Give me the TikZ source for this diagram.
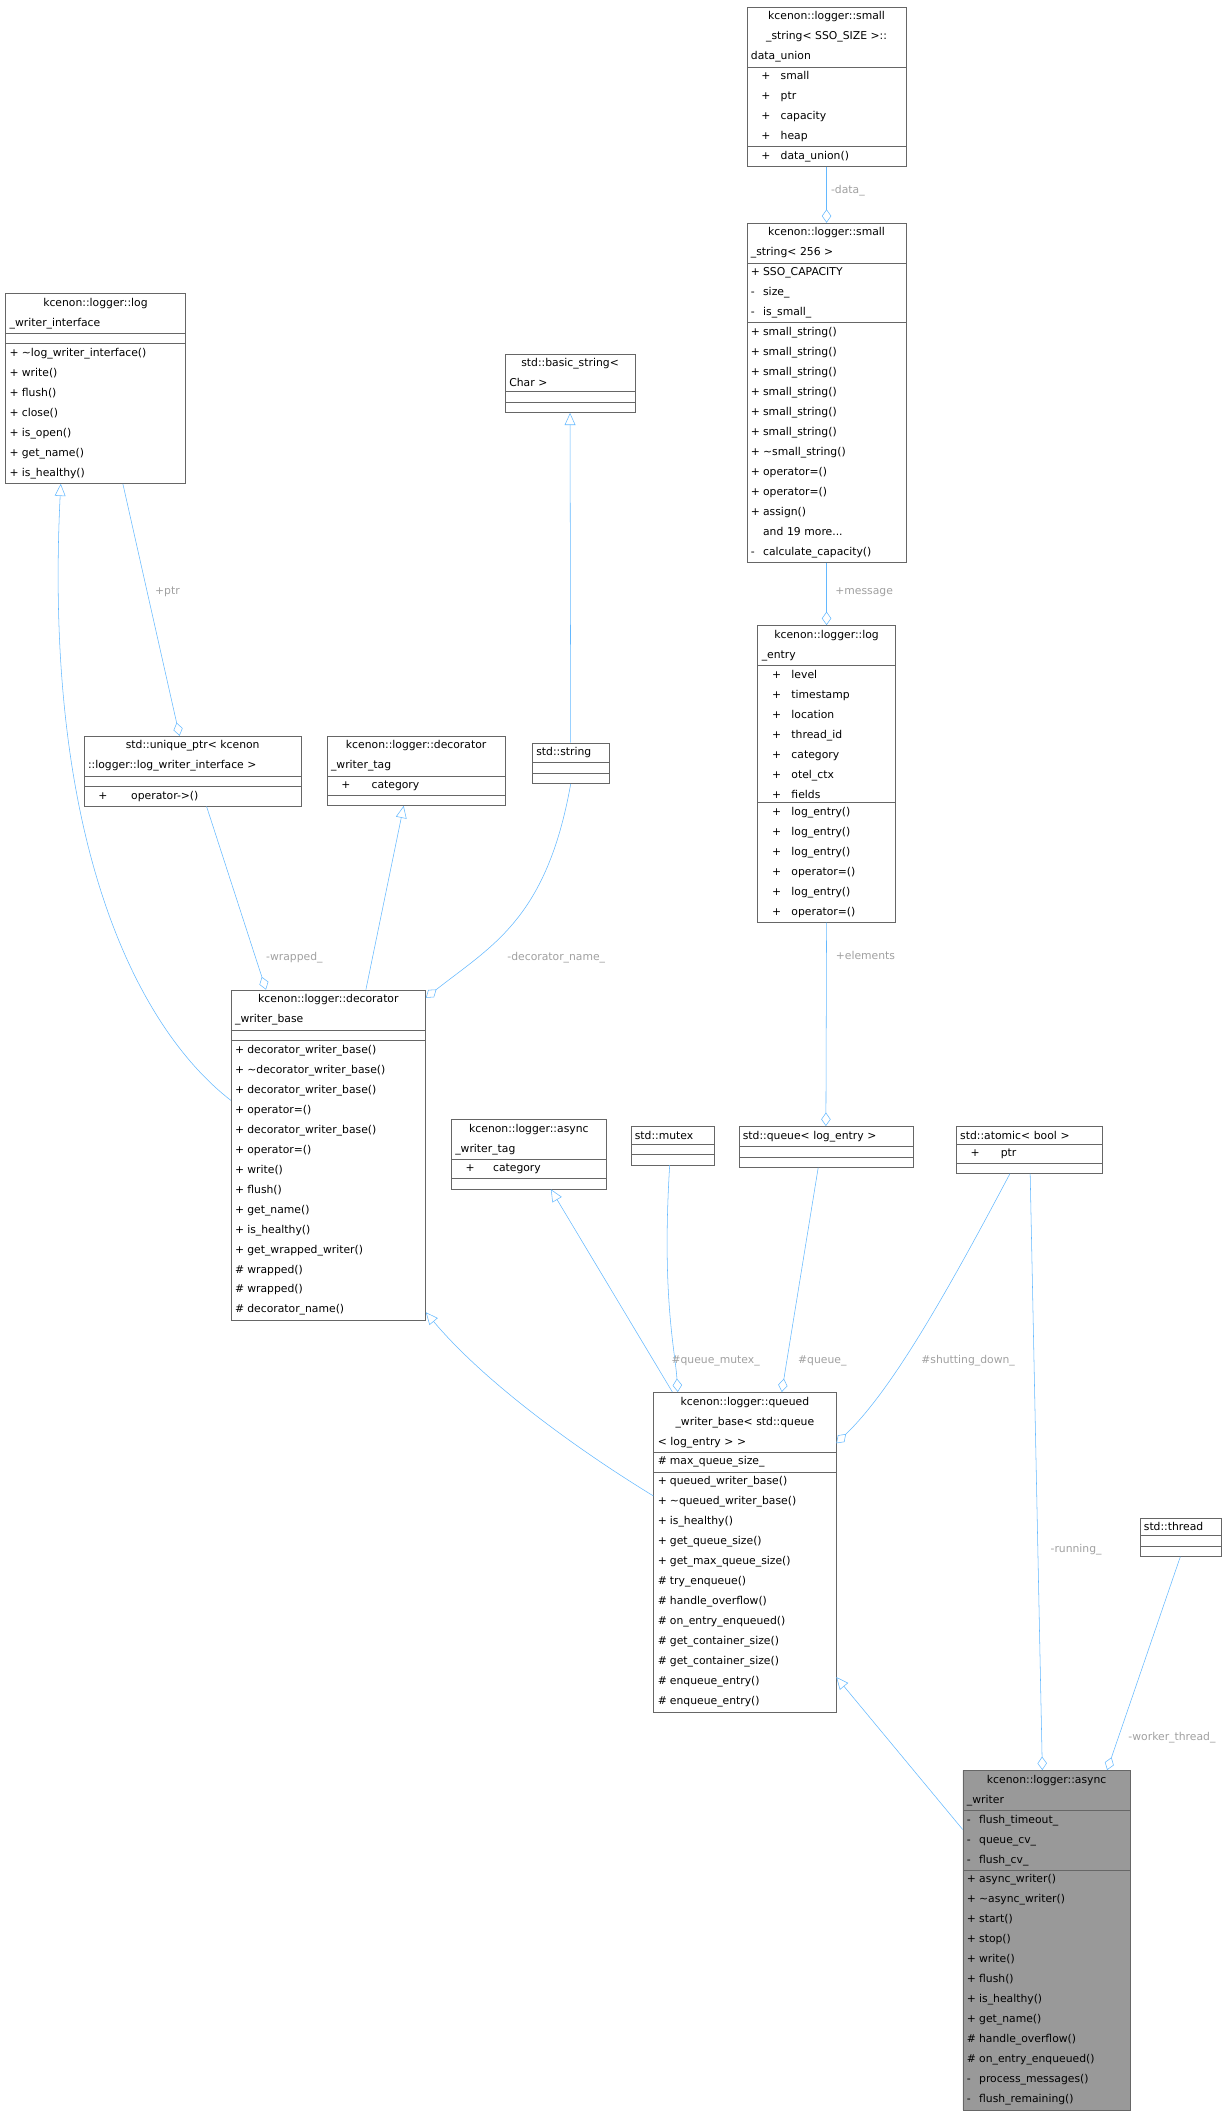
\documentclass[tikz,border=0pt]{standalone}
\usepackage{fontspec}
\setmainfont{DejaVu Sans}
\usetikzlibrary{shapes.multipart, arrows.meta}
\definecolor{edgeblue}{HTML}{63B8FF}
\definecolor{lblgrey}{HTML}{A0A0A0}
\definecolor{boxline}{HTML}{666666}
\newcommand{\vis}[1]{\makebox[9pt][l]{#1}}
\newcommand{\wvis}[1]{\makebox[22pt][c]{#1}}
\tikzset{
  cls/.style={rectangle split, rectangle split parts=3, draw=boxline, fill=white,
    anchor=north west, align=left, inner xsep=3pt, inner ysep=3.2pt,
    font=\fontsize{8}{14.8}\selectfont},
  focus/.style={cls, fill=black!40},
  agg/.style={draw=edgeblue, -{Diamond[open,length=10pt,width=7pt]}},
  inh/.style={draw=edgeblue, -{Triangle[open,length=9pt,width=8pt]}},
  lbl/.style={text=lblgrey, font=\fontsize{8}{10}\selectfont, inner sep=1pt}
}
\begin{document}
\begin{tikzpicture}[x=1pt, y=-1pt]
\useasboundingbox (0,0) rectangle (910,1565);
% classes
\node[cls, text width=112pt] (dunion) at (553,5) {\centering kcenon::logger::small\\\_string< SSO\_SIZE >::\\data\_union
  \nodepart{two}\wvis{+}small\\\wvis{+}ptr\\\wvis{+}capacity\\\wvis{+}heap
  \nodepart{three}\wvis{+}data\_union()};
\node[cls, text width=112pt] (sstr) at (553,165) {\centering kcenon::logger::small\\\_string< 256 >
  \nodepart{two}\vis{+}SSO\_CAPACITY\\\vis{-}size\_\\\vis{-}is\_small\_
  \nodepart{three}\vis{+}small\_string()\\\vis{+}small\_string()\\\vis{+}small\_string()\\\vis{+}small\_string()\\\vis{+}small\_string()\\\vis{+}small\_string()\\\vis{+}\textasciitilde small\_string()\\\vis{+}operator=()\\\vis{+}operator=()\\\vis{+}assign()\\\vis{}and 19 more...\\\vis{-}calculate\_capacity()};
\node[cls, text width=96pt] (lentry) at (561,463) {\centering kcenon::logger::log\\\_entry
  \nodepart{two}\wvis{+}level\\\wvis{+}timestamp\\\wvis{+}location\\\wvis{+}thread\_id\\\wvis{+}category\\\wvis{+}otel\_ctx\\\wvis{+}fields
  \nodepart{three}\wvis{+}log\_entry()\\\wvis{+}log\_entry()\\\wvis{+}log\_entry()\\\wvis{+}operator=()\\\wvis{+}log\_entry()\\\wvis{+}operator=()};
\node[cls, text width=127pt] (lwi) at (4,217) {\centering kcenon::logger::log\\\_writer\_interface
  \nodepart{two}\rule{0pt}{1pt}
  \nodepart{three}\vis{+}\textasciitilde log\_writer\_interface()\\\vis{+}write()\\\vis{+}flush()\\\vis{+}close()\\\vis{+}is\_open()\\\vis{+}get\_name()\\\vis{+}is\_healthy()};
\node[cls, text width=90pt] (bstr) at (374,262) {\centering std::basic\_string<\\Char >
  \nodepart{two}\rule{0pt}{1pt}
  \nodepart{three}\rule{0pt}{1pt}};
\node[cls, text width=155pt] (uptr) at (62,545) {\centering std::unique\_ptr< kcenon\\::logger::log\_writer\_interface >
  \nodepart{two}\rule{0pt}{1pt}
  \nodepart{three}\wvis{+}\hspace{10pt}operator->()};
\node[cls, text width=126pt] (dtag) at (242,545) {\centering kcenon::logger::decorator\\\_writer\_tag
  \nodepart{two}\wvis{+}\hspace{8pt}category
  \nodepart{three}\rule{0pt}{1pt}};
\node[cls, text width=51pt] (sstring) at (394,550) {\centering std::string
  \nodepart{two}\rule{0pt}{1pt}
  \nodepart{three}\rule{0pt}{1pt}};
\node[cls, text width=138pt] (dwb) at (171,733) {\centering kcenon::logger::decorator\\\_writer\_base
  \nodepart{two}\rule{0pt}{1pt}
  \nodepart{three}\vis{+}decorator\_writer\_base()\\\vis{+}\textasciitilde decorator\_writer\_base()\\\vis{+}decorator\_writer\_base()\\\vis{+}operator=()\\\vis{+}decorator\_writer\_base()\\\vis{+}operator=()\\\vis{+}write()\\\vis{+}flush()\\\vis{+}get\_name()\\\vis{+}is\_healthy()\\\vis{+}get\_wrapped\_writer()\\\vis{\#}wrapped()\\\vis{\#}wrapped()\\\vis{\#}decorator\_name()};
\node[cls, text width=109pt] (atag) at (334,829) {\centering kcenon::logger::async\\\_writer\_tag
  \nodepart{two}\wvis{+}\hspace{6pt}category
  \nodepart{three}\rule{0pt}{1pt}};
\node[cls, text width=56pt] (mutex) at (467,834) {\centering std::mutex
  \nodepart{two}\rule{0pt}{1pt}
  \nodepart{three}\rule{0pt}{1pt}};
\node[cls, text width=123pt] (queue) at (547,834) {\centering std::queue< log\_entry >
  \nodepart{two}\rule{0pt}{1pt}
  \nodepart{three}\rule{0pt}{1pt}};
\node[cls, text width=102pt] (atomic) at (708,834) {\centering std::atomic< bool >
  \nodepart{two}\wvis{+}\hspace{8pt}ptr
  \nodepart{three}\rule{0pt}{1pt}};
\node[cls, text width=129pt] (qwb) at (484,1031) {\centering kcenon::logger::queued\\\_writer\_base< std::queue\\< log\_entry > >
  \nodepart{two}\vis{\#}max\_queue\_size\_
  \nodepart{three}\vis{+}queued\_writer\_base()\\\vis{+}\textasciitilde queued\_writer\_base()\\\vis{+}is\_healthy()\\\vis{+}get\_queue\_size()\\\vis{+}get\_max\_queue\_size()\\\vis{\#}try\_enqueue()\\\vis{\#}handle\_overflow()\\\vis{\#}on\_entry\_enqueued()\\\vis{\#}get\_container\_size()\\\vis{\#}get\_container\_size()\\\vis{\#}enqueue\_entry()\\\vis{\#}enqueue\_entry()};
\node[cls, text width=54pt] (thread) at (844,1124) {\centering std::thread
  \nodepart{two}\rule{0pt}{1pt}
  \nodepart{three}\rule{0pt}{1pt}};
\node[focus, text width=118pt] (async) at (713,1311) {\centering kcenon::logger::async\\\_writer
  \nodepart{two}\vis{-}flush\_timeout\_\\\vis{-}queue\_cv\_\\\vis{-}flush\_cv\_
  \nodepart{three}\vis{+}async\_writer()\\\vis{+}\textasciitilde async\_writer()\\\vis{+}start()\\\vis{+}stop()\\\vis{+}write()\\\vis{+}flush()\\\vis{+}is\_healthy()\\\vis{+}get\_name()\\\vis{\#}handle\_overflow()\\\vis{\#}on\_entry\_enqueued()\\\vis{-}process\_messages()\\\vis{-}flush\_remaining()};

% connectors
\draw[agg] (dunion.south) -- (sstr.north);
\draw[agg] (sstr.south) -- (lentry.north);
\draw[agg] (lentry.south) -- (queue.north);
\draw[agg] ([xshift=87pt]lwi.south west) -- ([xshift=71pt]uptr.north west);
\draw[inh] (sstring.north) -- (bstr.south);
\draw[agg] ([xshift=91pt]uptr.south west) -- ([xshift=26pt]dwb.north west);
\draw[inh] ([xshift=100pt]dwb.north west) -- ([xshift=57pt]dtag.south west);
\draw[agg] (sstring.south) .. controls (405,680) and (365,700) .. ([yshift=-6pt]dwb.north east);
\draw[inh] ([yshift=-82pt]dwb.north west) .. controls (100,760) and (32,620) .. ([xshift=41pt]lwi.south west);
\draw[inh] ([yshift=-77pt]qwb.north west) .. controls (430,1075) and (360,1025) .. ([yshift=6pt]dwb.south east);
\draw[inh] ([xshift=14pt]qwb.north west) -- ([xshift=74pt]atag.south west);
\draw[agg] ([xshift=29pt]mutex.south west) .. controls (490,960) and (500,1000) .. ([xshift=18pt]qwb.north west);
\draw[agg] ([xshift=59pt]queue.south west) -- ([xshift=95pt]qwb.north west);
\draw[agg] ([xshift=40pt]atomic.south west) .. controls (700,960) and (660,1030) .. ([yshift=-38pt]qwb.north east);
\draw[inh] ([yshift=-44pt]async.north west) -- ([yshift=26pt]qwb.south east);
\draw[agg] ([xshift=55pt]atomic.south west) -- ([xshift=59pt]async.north west);
\draw[agg] (thread.south) -- ([xshift=107pt]async.north west);

% labels
\node[lbl] (lData) at (628,141) {-data\_};
\node[lbl] (lMessage) at (640,439) {+message};
\node[lbl] (lElements) at (641,708) {+elements};
\node[lbl] (lPtr) at (124,438) {+ptr};
\node[lbl] (lWrapped) at (218,709) {-wrapped\_};
\node[lbl] (lDecName) at (412,709) {-decorator\_name\_};
\node[lbl] (lMutex) at (530,1008) {\#queue\_mutex\_};
\node[lbl] (lQueue) at (609,1008) {\#queue\_};
\node[lbl] (lShut) at (717,1008) {\#shutting\_down\_};
\node[lbl] (lRunning) at (797,1148) {-running\_};
\node[lbl] (lWorker) at (868,1287) {-worker\_thread\_};
\end{tikzpicture}
\end{document}
